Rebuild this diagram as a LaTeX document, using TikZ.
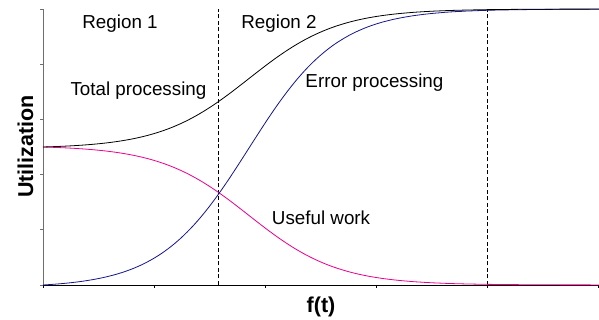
\documentclass[tikz,border=0pt]{standalone}
\usepackage{fontspec}
\setmainfont{Liberation Sans}
\usepackage{xcolor}
\definecolor{errblue}{RGB}{20,20,140}
\definecolor{axgray}{RGB}{110,110,110}

\begin{document}
\begin{tikzpicture}[x=111pt, y=55.2pt,
    declare function={sg(\t)=(1/(1+exp(-(\t-1.854)/0.4))-0.0096)/0.9904;}]
        % ================= 样式定义 =================
        \tikzset{
            % 坐标轴
            xaxis/.style={black, line width=0.9pt},
            yaxis/.style={axgray, line width=0.9pt},
            % 区域分界虚线
            regionline/.style={black, line width=0.8pt, dash pattern=on 4pt off 2.5pt},
            % 曲线
            curve/.style={line width=0.8pt, samples=150, smooth},
            % 文字
            lbl/.style={anchor=base, inner sep=0pt, font=\fontsize{18.8}{22}\selectfont},
            axlbl/.style={anchor=base, inner sep=0pt, font=\fontsize{21.5}{25}\selectfont\bfseries}
        }
        \useasboundingbox (-0.3874,-0.634) rectangle (5.009,5.163);

        % ================= 坐标轴 =================
        \coordinate (origin) at (0,0);
        \coordinate (xend) at (5.009,0);
        \coordinate (ytop) at (0,5);
        \draw[yaxis] (origin) -- (ytop);
        \draw[xaxis] (origin) -- (xend);
        \foreach \i in {0,...,5} \draw[xaxis] (\i,0) -- (\i,-0.05);
        \foreach \j in {0,...,5} \draw[yaxis] (0,\j) -- (-0.03,\j);

        % ================= 区域分界 =================
        \coordinate (b1lo) at (1.577,0);
        \coordinate (b1hi) at (1.577,5);
        \coordinate (b2lo) at (4,0);
        \coordinate (b2hi) at (4,5);
        \draw[regionline] (b1lo) -- (b1hi);
        \draw[regionline] (b2lo) -- (b2hi);

        % ================= 曲线 =================
        % useful work = 1/2 (1 - s), error = s, total = useful + error
        \draw[curve, magenta] plot[domain=0:5.009] (\x, {2.5*(1-sg(\x))});
        \draw[curve, errblue] plot[domain=0:5.009] (\x, {5*sg(\x)});
        \draw[curve, black] plot[domain=0:5.009] (\x, {2.5+2.5*sg(\x)});

        % ================= 文字 =================
        \node[lbl] (reg1) at (0.694,4.638) {Region 1};
        \node[lbl] (reg2) at (2.126,4.638) {Region 2};
        \node[lbl] (totlbl) at (0.860,3.433) {Total processing};
        \node[lbl] (errlbl) at (2.986,3.581) {Error processing};
        \node[lbl] (uselbl) at (2.505,1.100) {Useful work};
        \node[axlbl] (xlbl) at (2.505,-0.507) {f(t)};
        \node[axlbl, rotate=90] (ylbl) at (-0.09,2.509) {Utilization};

    \end{tikzpicture}
\end{document}
